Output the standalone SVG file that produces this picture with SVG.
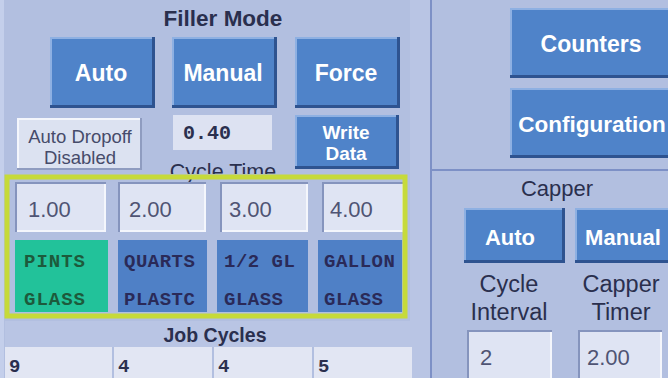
<svg xmlns="http://www.w3.org/2000/svg" width="668" height="378" viewBox="0 0 668 378">
<style>
.bs{fill:#2e5390}
.bh{fill:#8eb0e2}
.bf{fill:#4f83c9}
.bt{font-family:"Liberation Sans",Arial,sans-serif;font-weight:bold;fill:#ffffff;text-anchor:middle}
.vb{fill:#dfe4f3}
.vd{fill:#8594bd}
.vl{fill:#f4f6fc}
.vt{font-family:"Liberation Sans",Arial,sans-serif;font-size:22px;fill:#4f5474}
.hd{font-family:"Liberation Sans",Arial,sans-serif;fill:#2a2f4e;text-anchor:middle}
.lb{font-family:"Liberation Mono","Courier New",monospace;font-weight:bold;font-size:19px}
.jt{font-family:"Liberation Mono","Courier New",monospace;font-weight:bold;font-size:19px;fill:#2a2f4e}
</style>
<rect x="0" y="0" width="668" height="378" fill="#b2bfe0"/>
<rect x="0" y="0" width="4" height="378" fill="#c4cfeb"/>
<rect x="410" y="0" width="20" height="378" fill="#b9c5e4"/>
<rect x="5" y="321" width="405" height="26" fill="#b9c5e4"/>
<g id="dividers">
<line x1="431" y1="0" x2="431" y2="378" stroke="#7d90c6" stroke-width="2"/>
<line x1="431" y1="170" x2="668" y2="170" stroke="#7d90c6" stroke-width="2"/>
</g>
<g id="filler-mode-title"><text class="hd" x="223" y="26" font-size="22.5" font-weight="bold">Filler Mode</text></g>
<g id="btn-filler-auto"><rect class="bs" x="50" y="37" width="105" height="71"/><rect class="bh" x="50" y="37" width="102" height="68"/><rect class="bf" x="52" y="39" width="100" height="66"/><text class="bt" x="101" y="81" font-size="23">Auto</text></g>
<g id="btn-filler-manual"><rect class="bs" x="172" y="37" width="105" height="71"/><rect class="bh" x="172" y="37" width="102" height="68"/><rect class="bf" x="174" y="39" width="100" height="66"/><text class="bt" x="223" y="81" font-size="23">Manual</text></g>
<g id="btn-filler-force"><rect class="bs" x="295" y="37" width="105" height="71"/><rect class="bh" x="295" y="37" width="102" height="68"/><rect class="bf" x="297" y="39" width="100" height="66"/><text class="bt" x="346" y="81" font-size="23">Force</text></g>
<g id="auto-dropoff"><rect x="17" y="118" width="125" height="52" fill="#8f9cc0"/><rect x="17" y="118" width="123" height="50" fill="#f4f6fc"/><rect x="19" y="120" width="121" height="48" fill="#dce2f1"/><text x="80" y="143" font-family="Liberation Sans,Arial,sans-serif" font-size="18.5" fill="#464b6a" text-anchor="middle">Auto Dropoff</text><text x="80" y="164" font-family="Liberation Sans,Arial,sans-serif" font-size="18.5" fill="#464b6a" text-anchor="middle">Disabled</text></g>
<g id="cycle-time"><rect x="173" y="115" width="99" height="35" fill="#dde2f2"/><text x="183" y="139" font-family="Liberation Mono,Courier New,monospace" font-weight="bold" font-size="20" fill="#2a2f4e">0.40</text><text class="hd" x="223" y="179" font-size="21.5">Cycle Time</text></g>
<g id="btn-write-data"><rect class="bs" x="295" y="115" width="104" height="54"/><rect class="bh" x="295" y="115" width="101" height="51"/><rect class="bf" x="297" y="117" width="99" height="49"/><text class="bt" x="346" y="139" font-size="19">Write</text><text class="bt" x="346" y="160" font-size="19">Data</text></g>
<rect x="5" y="174" width="405" height="4" fill="#b2bfe0"/>
<g id="value-1"><rect class="vd" x="15" y="182" width="91" height="50"/><rect class="vl" x="17" y="184" width="89" height="48"/><rect class="vb" x="17" y="184" width="87" height="46"/><text class="vt" x="28" y="217">1.00</text></g>
<g id="value-2"><rect class="vd" x="118" y="182" width="88" height="50"/><rect class="vl" x="120" y="184" width="86" height="48"/><rect class="vb" x="120" y="184" width="84" height="46"/><text class="vt" x="129" y="217">2.00</text></g>
<g id="value-3"><rect class="vd" x="220" y="182" width="88" height="50"/><rect class="vl" x="222" y="184" width="86" height="48"/><rect class="vb" x="222" y="184" width="84" height="46"/><text class="vt" x="229" y="217">3.00</text></g>
<g id="value-4"><rect class="vd" x="322" y="182" width="82" height="50"/><rect class="vl" x="324" y="184" width="80" height="48"/><rect class="vb" x="324" y="184" width="78" height="46"/><text class="vt" x="330" y="217">4.00</text></g>
<g id="label-pints"><rect x="15" y="240" width="93" height="72" fill="#22c29a"/><text class="lb" x="24" y="267" fill="#1d5a3c" letter-spacing="1">PINTS</text><text class="lb" x="24" y="305" fill="#1d5a3c" letter-spacing="1">GLASS</text></g>
<g id="label-quarts"><rect x="118" y="240" width="89" height="72" fill="#4f80c6"/><text class="lb" x="124" y="267" fill="#2a2a58" letter-spacing="0.5">QUARTS</text><text class="lb" x="124" y="305" fill="#2a2a58" letter-spacing="0.5">PLASTC</text></g>
<g id="label-half-gl"><rect x="217" y="240" width="91" height="72" fill="#4f80c6"/><text class="lb" x="224" y="267" fill="#2a2a58" letter-spacing="0.5">1/2 GL</text><text class="lb" x="224" y="305" fill="#2a2a58" letter-spacing="0.5">GLASS</text></g>
<g id="label-gallon"><rect x="318" y="240" width="84" height="72" fill="#4f80c6"/><text class="lb" x="324" y="267" fill="#2a2a58" letter-spacing="0.5">GALLON</text><text class="lb" x="324" y="305" fill="#2a2a58" letter-spacing="0.5">GLASS</text></g>
<rect x="404" y="178" width="2" height="136" fill="#b2bfe0"/>
<g id="highlight-frame"><rect x="7" y="177" width="398" height="139" fill="none" stroke="#c6da3a" stroke-width="5"/></g>
<g id="job-cycles-title"><text class="hd" x="215" y="342" font-size="19.5" font-weight="bold">Job Cycles</text></g>
<g id="job-1"><rect x="5" y="347" width="107" height="31" fill="#e2e6f3"/><text class="jt" x="9" y="372">9</text></g>
<g id="job-2"><rect x="114" y="347" width="98" height="31" fill="#e2e6f3"/><text class="jt" x="118" y="372">4</text></g>
<g id="job-3"><rect x="214" y="347" width="98" height="31" fill="#e2e6f3"/><text class="jt" x="218" y="372">4</text></g>
<g id="job-4"><rect x="314" y="347" width="98" height="31" fill="#e2e6f3"/><text class="jt" x="318" y="372">5</text></g>
<g id="btn-counters"><rect class="bs" x="510" y="8" width="162" height="70"/><rect class="bh" x="510" y="8" width="162" height="67"/><rect class="bf" x="512" y="10" width="160" height="65"/><text class="bt" x="591" y="52" font-size="23">Counters</text></g>
<g id="btn-configuration"><rect class="bs" x="510" y="88" width="162" height="70"/><rect class="bh" x="510" y="88" width="162" height="67"/><rect class="bf" x="512" y="90" width="160" height="65"/><text class="bt" x="592" y="132" font-size="22.5">Configuration</text></g>
<g id="capper-title"><text class="hd" x="557" y="196" font-size="22">Capper</text></g>
<g id="btn-capper-auto"><rect class="bs" x="464" y="208" width="101" height="55"/><rect class="bh" x="464" y="208" width="98" height="52"/><rect class="bf" x="466" y="210" width="96" height="50"/><text class="bt" x="510" y="245" font-size="22">Auto</text></g>
<g id="btn-capper-manual"><rect class="bs" x="575" y="208" width="97" height="55"/><rect class="bh" x="575" y="208" width="97" height="52"/><rect class="bf" x="577" y="210" width="95" height="50"/><text class="bt" x="623" y="245" font-size="22">Manual</text></g>
<g id="cycle-interval"><text class="hd" x="509" y="292" font-size="23.5">Cycle</text><text class="hd" x="509" y="320" font-size="23.5">Interval</text><rect class="vd" x="467" y="330" width="85" height="50"/><rect class="vl" x="469" y="332" width="83" height="48"/><rect class="vb" x="469" y="332" width="81" height="46"/><text class="vt" x="480" y="365">2</text></g>
<g id="capper-timer"><text class="hd" x="621" y="292" font-size="23.5">Capper</text><text class="hd" x="621" y="320" font-size="23.5">Timer</text><rect class="vd" x="578" y="330" width="84" height="50"/><rect class="vl" x="580" y="332" width="82" height="48"/><rect class="vb" x="580" y="332" width="80" height="46"/><text class="vt" x="587" y="365">2.00</text></g>
</svg>
